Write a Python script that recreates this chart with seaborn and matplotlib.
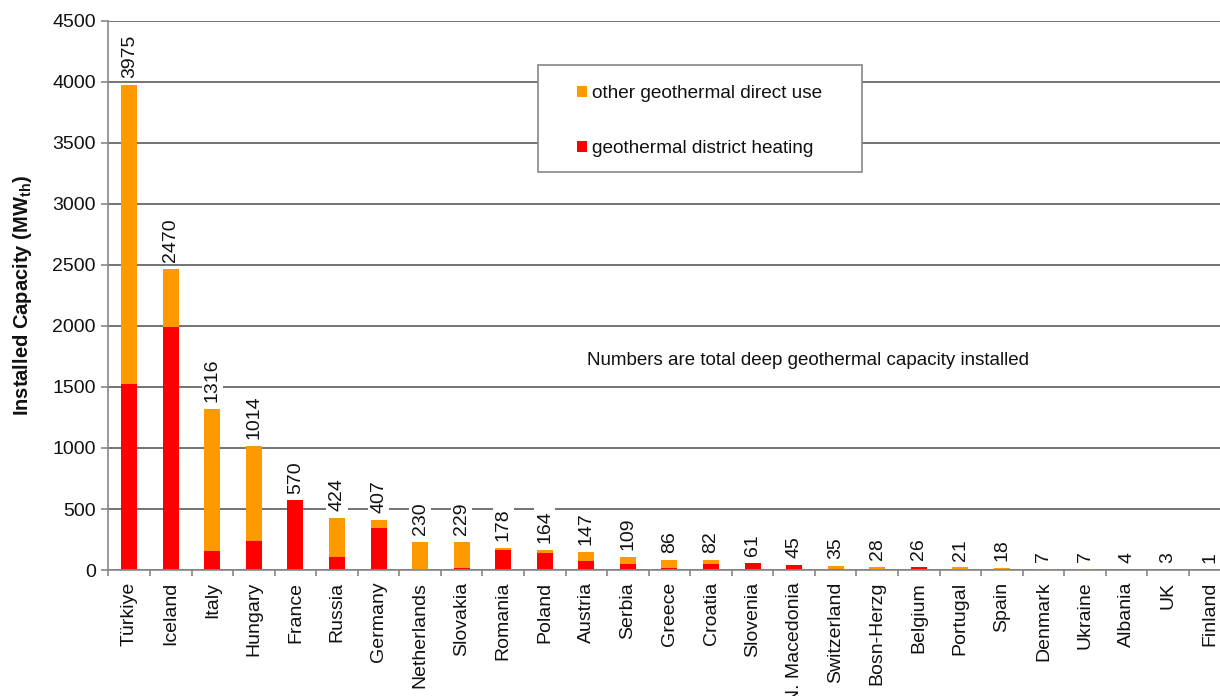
import matplotlib
matplotlib.use("Agg")
import matplotlib.pyplot as plt
import seaborn as sns
import numpy as np
from matplotlib.patches import Patch, Rectangle
from matplotlib.ticker import MultipleLocator, FixedLocator, NullFormatter

# data
countries = ['Türkiye', 'Iceland', 'Italy', 'Hungary', 'France', 'Russia', 'Germany',
             'Netherlands', 'Slovakia', 'Romania', 'Poland', 'Austria', 'Serbia', 'Greece',
             'Croatia', 'Slovenia', 'N. Macedonia', 'Switzerland', 'Bosn-Herzg', 'Belgium',
             'Portugal', 'Spain', 'Denmark', 'Ukraine', 'Albania', 'UK', 'Finland']
totals = [3975, 2470, 1316, 1014, 570, 424, 407, 230, 229, 178, 164, 147, 109, 86,
          82, 61, 45, 35, 28, 26, 21, 18, 7, 7, 4, 3, 1]
district_heating = [1525, 1990, 158, 235, 570, 104, 342, 0, 15, 165, 137, 71, 47, 19,
                    47, 58, 42, 8, 3, 26, 3, 2, 0, 0, 0, 1, 0]

ORANGE = '#FF9900'
RED = '#FF0000'
TXT = '#111111'

sns.set_theme(style='white')
plt.rcParams['font.family'] = ['Liberation Sans', 'DejaVu Sans']
plt.rcParams['mathtext.fontset'] = 'custom'
plt.rcParams['mathtext.rm'] = 'Liberation Sans'
plt.rcParams['mathtext.bf'] = 'Liberation Sans:bold'

fig = plt.figure(figsize=(12.2, 6.96), dpi=100)
ax = fig.add_axes([0.0889, 0.181, 0.9197, 0.789])

# totals in orange, district heating drawn over the bottom part in red
sns.barplot(x=countries, y=totals, color=ORANGE, saturation=1, width=0.385,
            linewidth=0, ax=ax, zorder=2)
sns.barplot(x=countries, y=district_heating, color=RED, saturation=1, width=0.385,
            linewidth=0, ax=ax, zorder=2)

ax.set_xlim(-0.5, len(countries) - 0.5)
ax.set_ylim(0, 4500)
ax.yaxis.set_major_locator(MultipleLocator(500))
ax.grid(axis='y', color='#4d4d4d', linewidth=1.1, zorder=0)
ax.set_axisbelow(True)

for s in ['top', 'right']:
    ax.spines[s].set_visible(False)
for s in ['left', 'bottom']:
    ax.spines[s].set_color('#888888')
    ax.spines[s].set_linewidth(1.2)

# tick marks between categories like the original
ax.xaxis.set_minor_locator(FixedLocator(np.arange(-0.5, len(countries), 1.0)))
ax.xaxis.set_minor_formatter(NullFormatter())
ax.tick_params(axis='x', which='major', length=0, pad=8.5, labelsize=14,
               labelcolor=TXT, rotation=90)
ax.tick_params(axis='x', which='minor', length=4, width=1.2, color='#888888',
               direction='out', bottom=True)
ax.tick_params(axis='y', length=5, width=1.2, color='#888888', direction='out',
               left=True, pad=4, labelsize=14, labelcolor=TXT)

ax.set_ylabel(r'Installed Capacity (MW$_{\mathbf{th}}$)', fontsize=14.5,
              fontweight='bold', color=TXT, va='center')
ax.yaxis.set_label_coords(-0.077, 0.5)

# value labels on top of each bar
for i, v in enumerate(totals):
    ax.annotate(str(v), (i, v), xytext=(0, 5), textcoords='offset points',
                rotation=90, ha='center', va='bottom', fontsize=14, color=TXT,
                bbox=dict(facecolor='white', edgecolor='none', pad=1.5), zorder=3)

ax.text(0.6234, 0.3807, 'Numbers are total deep geothermal capacity installed',
        transform=ax.transAxes, ha='center', va='center', fontsize=13.5, color=TXT)

# legend box
ax.add_patch(Rectangle((0.3828, 0.725), 0.2888, 0.195, transform=ax.transAxes,
                       facecolor='white', edgecolor='#888888', linewidth=1.2, zorder=4))
handles = [Patch(facecolor=ORANGE, edgecolor='none', label='other geothermal direct use'),
           Patch(facecolor=RED, edgecolor='none', label='geothermal district heating')]
leg = ax.legend(handles=handles, loc='center left', bbox_to_anchor=(0.4093, 0.8178),
                frameon=False, fontsize=13.7, borderpad=0, handlelength=0.53,
                handleheight=0.53, handletextpad=0.26, labelspacing=2.0,
                labelcolor=TXT)
leg.set_zorder(5)

fig.savefig('out.png', dpi=100)
